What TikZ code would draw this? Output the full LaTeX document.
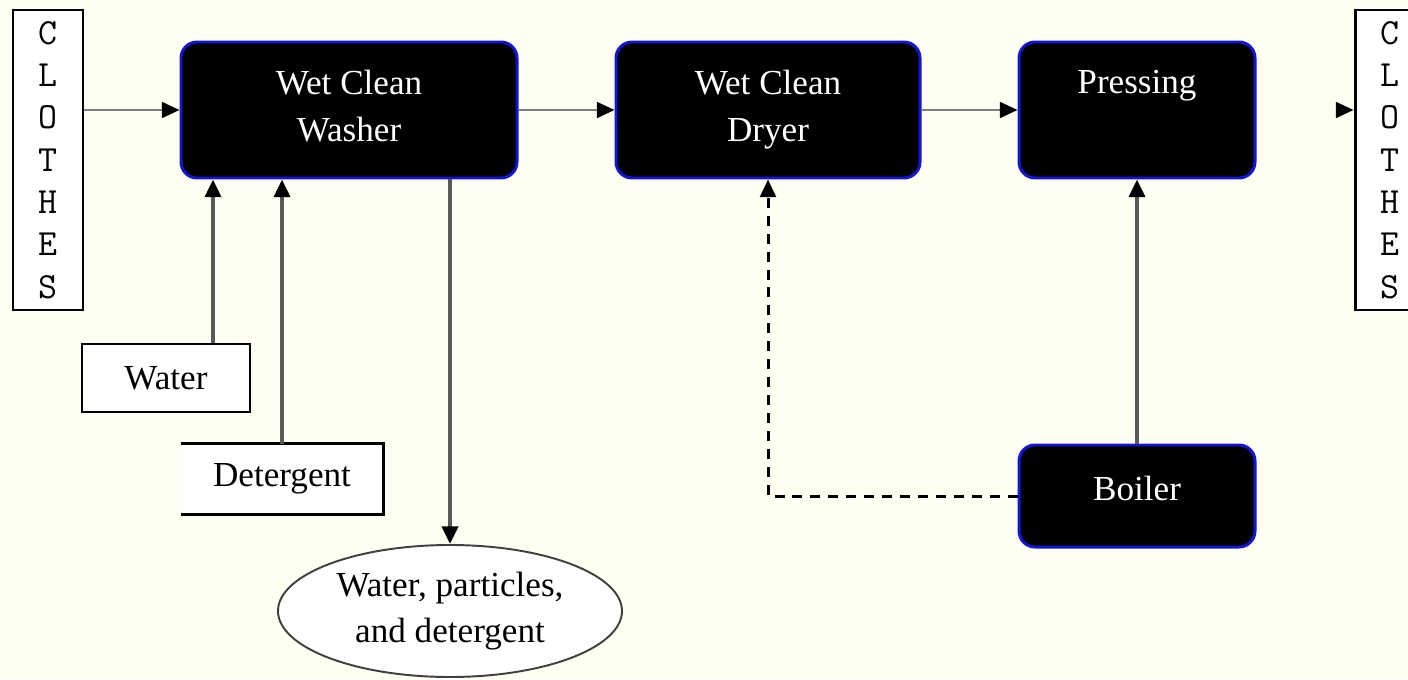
\documentclass[tikz,border=0pt]{standalone}
\usepackage{fontspec}
\setmainfont{Liberation Serif}
\usetikzlibrary{arrows.meta, shapes.geometric}
\definecolor{paper}{RGB}{255,255,242}
\definecolor{rim}{RGB}{20,20,215}

\begin{document}
\begin{tikzpicture}[x=0.02cm, y=-0.02cm]

% Define styles
\def\px{0.02cm}
\tikzstyle{unit}=[draw=rim, fill=black, text=white, line width=1.7pt, rounded corners=16*\px, inner sep=0pt, align=center, text depth=5pt, font=\fontsize{20}{26.6}\selectfont]
\tikzstyle{clothes}=[draw=black, fill=white, line width=1.7pt, minimum width=70*\px, minimum height=300*\px, inner sep=0pt, align=center, font=\ttfamily\fontsize{21}{24.1}\selectfont]
\tikzstyle{source}=[fill=white, line width=1.7pt, inner sep=0pt, font=\fontsize{20}{26.6}\selectfont]
\tikzstyle{waste}=[ellipse, draw=black!75, fill=white, line width=1.1pt, inner sep=0pt, align=center, minimum width=344*\px, minimum height=132*\px, font=\fontsize{20}{26.6}\selectfont]
\tikzstyle{flow}=[draw=black!50, line width=1.3pt, -{Triangle[length=10pt, width=9pt, black]}]
\tikzstyle{feed}=[draw=black!65, line width=2.2pt, -{Triangle[length=10pt, width=9pt, black]}]
\tikzstyle{steam}=[draw=black, line width=1.7pt, dash pattern=on 5.7pt off 4.5pt, -{Triangle[length=10pt, width=9pt, black]}]

% Background
\fill[paper] (0,0) rectangle (1408,679);
\useasboundingbox (0,0) rectangle (1408,679);

% Clothes in and out
\node[clothes] (lclothes) at (48,160) {C\\L\\O\\T\\H\\E\\S};
\node[clothes] (rclothes) at (1390,160) {C\\L\\O\\T\\H\\E\\S};

% Process units
\node[unit, minimum width=336*\px, minimum height=136*\px] (washer) at (349,110) {Wet Clean\\Washer};
\node[unit, minimum width=304*\px, minimum height=136*\px] (dryer) at (768,110) {Wet Clean\\Dryer};
\node[unit, minimum width=236*\px, minimum height=136*\px] (pressing) at (1137,110) {Pressing\\\mbox{}};
\node[unit, text depth=9pt, minimum width=236*\px, minimum height=102*\px] (boiler) at (1137,496) {Boiler};

% Inputs and waste
\node[source, draw=black, minimum width=168*\px, minimum height=68*\px] (water) at (166,378) {Water};
\node[source, minimum width=200*\px, minimum height=68*\px] (detergent) at (282,479) {Detergent};
\draw[line width=1.7pt] (detergent.north west) -- (detergent.north east) -- (detergent.south east) -- (detergent.south west);
\node[waste] (drain) at (450,611) {Water, particles,\\and detergent};

% Main line
\draw[flow] (lclothes.east |- washer.west) -- (washer.west);
\draw[flow] (washer) -- (dryer);
\draw[flow] (dryer) -- (pressing);
\coordinate (pin) at (1337,110);
\draw[flow] (pin) -- (pin -| rclothes.west);

% Feeds
\coordinate (wtop) at ([xshift=47*\px]water.north);
\draw[feed] (wtop) -- (wtop |- washer.south);
\draw[feed] (detergent.north) -- (detergent.north |- washer.south);
\draw[feed] (drain.north |- washer.south) -- (drain.north);
\draw[feed] (boiler) -- (pressing);
\draw[steam] (boiler.west) -| (dryer.south);

\end{tikzpicture}
\end{document}
